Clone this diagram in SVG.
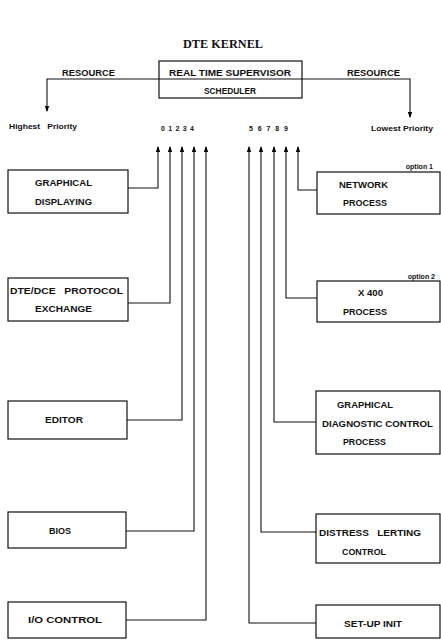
<svg xmlns="http://www.w3.org/2000/svg" width="441" height="640" viewBox="0 0 441 640">
<defs>
<marker id="ah" viewBox="0 0 6 6" refX="5" refY="3" markerWidth="6" markerHeight="6" markerUnits="userSpaceOnUse" orient="auto">
<path d="M0,0.8 L6,3 L0,5.2 Z" fill="#000"/>
</marker>
<style>
.t{font-family:"Liberation Sans",Arial,sans-serif;font-weight:bold;font-size:8.5px;fill:#111}
.s{font-family:"Liberation Sans",Arial,sans-serif;font-weight:bold;font-size:7px;fill:#111}
.b{fill:#fff;stroke:#111;stroke-width:1.2}
.c{fill:none;stroke:#111;stroke-width:1.1}
.a{fill:none;stroke:#111;stroke-width:1.1;marker-end:url(#ah)}
</style>
</defs>
<rect width="441" height="640" fill="#fff"/>
<text x="183" y="48" textLength="80" lengthAdjust="spacingAndGlyphs" style="font-family:'Liberation Serif','Times New Roman',serif;font-weight:bold;font-size:11.5px;fill:#111">DTE KERNEL</text>

<g id="connectors">
<polyline class="a" points="159,79 47,79 47,111"/>
<polyline class="a" points="302,79 410,79 410,117"/>
<polyline class="a" points="128,188 158,188 158,147"/>
<polyline class="a" points="128,303 170,303 170,147"/>
<polyline class="a" points="127,420 182,420 182,147"/>
<polyline class="a" points="126,531 194,531 194,147"/>
<polyline class="a" points="126,620 206,620 206,147"/>
<polyline class="a" points="317,190 298,190 298,147"/>
<polyline class="a" points="317,298 286,298 286,147"/>
<polyline class="a" points="316,422 274,422 274,147"/>
<polyline class="a" points="316,532 261,532 261,147"/>
<polyline class="a" points="316,623 249,623 249,147"/>
</g>

<g id="labels">
<text class="t" x="62" y="76" textLength="53" lengthAdjust="spacingAndGlyphs">RESOURCE</text>
<text class="t" x="347" y="76" textLength="53" lengthAdjust="spacingAndGlyphs">RESOURCE</text>
<text class="s" x="9" y="129" textLength="68" lengthAdjust="spacingAndGlyphs">Highest&#160;&#160;&#160;Priority</text>
<text class="s" x="161" y="131" textLength="33" lengthAdjust="spacing">0 1 2 3 4</text>
<text class="s" x="249" y="131" textLength="39" lengthAdjust="spacing">5 6 7 8 9</text>
<text class="s" x="371" y="131" textLength="62" lengthAdjust="spacingAndGlyphs">Lowest Priority</text>
<text class="s" x="433" y="169" text-anchor="end">option 1</text>
<text class="s" x="435" y="279" text-anchor="end">option 2</text>
</g>

<g id="supervisor">
<rect class="b" x="159" y="61" width="143" height="37"/>
<line class="c" x1="159" y1="79" x2="302" y2="79"/>
<text class="t" x="230" y="76" text-anchor="middle" textLength="122" lengthAdjust="spacingAndGlyphs">REAL TIME SUPERVISOR</text>
<text class="t" x="230" y="94" text-anchor="middle" textLength="52" lengthAdjust="spacingAndGlyphs">SCHEDULER</text>
</g>

<g id="graphical-displaying">
<rect class="b" x="8" y="170" width="120" height="43"/>
<text class="t" x="35" y="186" textLength="57" lengthAdjust="spacingAndGlyphs">GRAPHICAL</text>
<text class="t" x="35" y="205" textLength="57" lengthAdjust="spacingAndGlyphs">DISPLAYING</text>
</g>

<g id="protocol-exchange">
<rect class="b" x="8" y="278" width="120" height="43"/>
<text class="t" x="10" y="294" textLength="113" lengthAdjust="spacingAndGlyphs">DTE/DCE&#160;&#160;&#160;PROTOCOL</text>
<text class="t" x="35" y="312" textLength="57" lengthAdjust="spacingAndGlyphs">EXCHANGE</text>
</g>

<g id="editor">
<rect class="b" x="8" y="401" width="119" height="38"/>
<text class="t" x="45" y="423" textLength="38" lengthAdjust="spacingAndGlyphs">EDITOR</text>
</g>

<g id="bios">
<rect class="b" x="8" y="512" width="118" height="36"/>
<text class="t" x="49" y="534" textLength="22" lengthAdjust="spacingAndGlyphs">BIOS</text>
</g>

<g id="io-control">
<rect class="b" x="8" y="602" width="118" height="36"/>
<text class="t" x="28" y="623" textLength="74" lengthAdjust="spacingAndGlyphs">I/O CONTROL</text>
</g>

<g id="network-process">
<rect class="b" x="317" y="172" width="123" height="42"/>
<text class="t" x="339" y="188" textLength="49" lengthAdjust="spacingAndGlyphs">NETWORK</text>
<text class="t" x="343" y="206" textLength="44" lengthAdjust="spacingAndGlyphs">PROCESS</text>
</g>

<g id="x400-process">
<rect class="b" x="317" y="281" width="123" height="41"/>
<text class="t" x="358" y="296" textLength="25" lengthAdjust="spacingAndGlyphs">X 400</text>
<text class="t" x="343" y="315" textLength="44" lengthAdjust="spacingAndGlyphs">PROCESS</text>
</g>

<g id="diagnostic-control">
<rect class="b" x="316" y="391" width="124" height="63"/>
<text class="t" x="337" y="408" textLength="56" lengthAdjust="spacingAndGlyphs">GRAPHICAL</text>
<text class="t" x="322" y="427" textLength="111" lengthAdjust="spacingAndGlyphs">DIAGNOSTIC CONTROL</text>
<text class="t" x="343" y="445" textLength="43" lengthAdjust="spacingAndGlyphs">PROCESS</text>
</g>

<g id="distress-control">
<rect class="b" x="316" y="514" width="124" height="49"/>
<text class="t" x="319" y="536" textLength="102" lengthAdjust="spacingAndGlyphs">DISTRESS&#160;&#160;&#160;LERTING</text>
<text class="t" x="342" y="555" textLength="44" lengthAdjust="spacingAndGlyphs">CONTROL</text>
</g>

<g id="setup-init">
<rect class="b" x="316" y="605" width="124" height="33"/>
<text class="t" x="344" y="627" textLength="58" lengthAdjust="spacingAndGlyphs">SET-UP INIT</text>
</g>
</svg>
